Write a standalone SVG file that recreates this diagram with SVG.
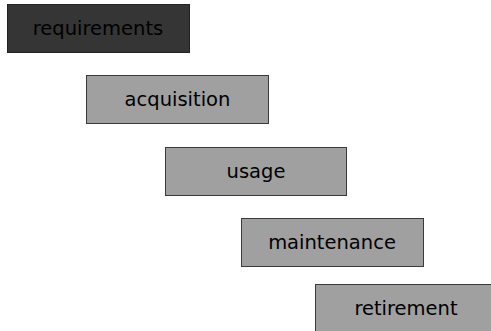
<svg xmlns="http://www.w3.org/2000/svg" width="491" height="331" viewBox="0 0 491 331">
<style>
.box{fill:#a0a0a0;stroke:#3a3a3a;stroke-width:1}
.dark{fill:#353535;stroke:#222;stroke-width:1}
.t{font-family:"DejaVu Sans",sans-serif;font-size:19.5px;fill:#000;text-anchor:middle}
</style>
<rect width="491" height="331" fill="#fff"/>
<g id="requirements">
<rect class="dark" x="7.5" y="4.5" width="182" height="48"/>
<text class="t" x="98" y="35">requirements</text>
</g>
<g id="acquisition">
<rect class="box" x="86.5" y="75.5" width="182" height="48"/>
<text class="t" x="177.5" y="106">acquisition</text>
</g>
<g id="usage">
<rect class="box" x="165.5" y="147.5" width="181" height="48"/>
<text class="t" x="256" y="178">usage</text>
</g>
<g id="maintenance">
<rect class="box" x="241.5" y="218.5" width="182" height="48"/>
<text class="t" x="332" y="249">maintenance</text>
</g>
<g id="retirement">
<rect class="box" x="315.5" y="284.5" width="182" height="48"/>
<text class="t" x="406" y="315">retirement</text>
</g>
<g id="connectors"/>
</svg>
